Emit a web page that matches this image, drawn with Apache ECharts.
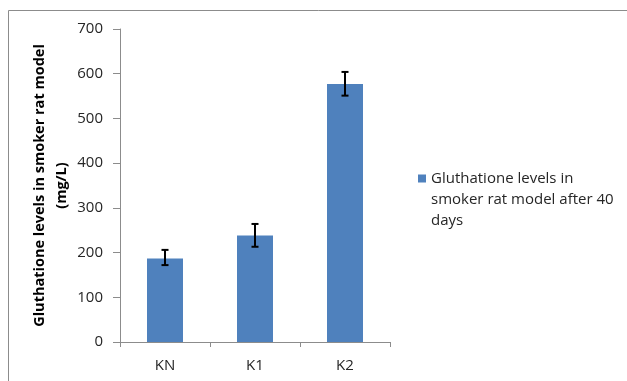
<!DOCTYPE html>
<html>
<head>
<meta charset="utf-8">
<script src="https://cdn.jsdelivr.net/npm/echarts@6/dist/echarts.min.js"></script>
<style>
html,body{margin:0;padding:0;background:#fff;}
#chart{width:627px;height:381px;}
</style>
</head>
<body>
<div id="chart"></div>
<script>
const categories = ['KN', 'K1', 'K2'];
const values = [187, 238, 577];
const errLow = [172, 213, 551];
const errHigh = [206, 264, 604];
const seriesName = 'Gluthatione levels in smoker rat model after 40 days';
const legendLines = ['Gluthatione levels in', 'smoker rat model after 40', 'days'];
const yAxisTitle = ['Gluthatione levels in smoker rat model', '(mg/L)'];

const chart = echarts.init(document.getElementById('chart'));
const font = 'Open Sans';
const errData = categories.map((c, i) => [i, errLow[i], errHigh[i]]);

chart.setOption({
  animation: false,
  backgroundColor: '#fff',
  graphic: [{
    type: 'rect',
    shape: { x: 8.5, y: 10.5, width: 700, height: 500 },
    style: { fill: 'none', stroke: '#8c8c8c', lineWidth: 1 },
    silent: true
  }],
  grid: { left: 120, right: 237, top: 29, bottom: 39, containLabel: false },
  legend: {
    data: [seriesName],
    left: 418,
    top: 126,
    orient: 'vertical',
    icon: 'rect',
    itemWidth: 8,
    itemHeight: 8,
    itemGap: 4,
    padding: 0,
    formatter: () => '\n\n' + legendLines.join('\n'),
    textStyle: {
      fontFamily: font, fontSize: 15, color: '#262626',
      lineHeight: 21
    }
  },
  xAxis: {
    type: 'category',
    data: categories,
    axisLine: { lineStyle: { color: '#8c8c8c', width: 1 } },
    axisTick: { show: true, alignWithLabel: false, length: 5, lineStyle: { color: '#8c8c8c' } },
    axisLabel: { fontFamily: font, fontSize: 15, color: '#262626', margin: 16 },
    splitLine: { show: false }
  },
  yAxis: {
    type: 'value',
    min: 0, max: 700, interval: 100,
    name: yAxisTitle.join('\n'),
    nameLocation: 'middle',
    nameRotate: 90,
    nameGap: 47,
    nameTextStyle: { fontFamily: font, fontSize: 14.5, fontWeight: 'bold', color: '#000', lineHeight: 22 },
    axisLine: { show: true, lineStyle: { color: '#8c8c8c', width: 1 } },
    axisTick: { show: true, length: 7, lineStyle: { color: '#8c8c8c' } },
    axisLabel: { fontFamily: font, fontSize: 15, color: '#262626', margin: 17 },
    splitLine: { show: false }
  },
  series: [{
    name: seriesName,
    type: 'bar',
    data: values,
    barWidth: '40%',
    itemStyle: { color: '#4f81bd' },
    z: 2
  }, {
    type: 'custom',
    name: 'err',
    data: errData,
    z: 5,
    renderItem: function (params, api) {
      const x = api.value(0);
      const lo = api.coord([x, api.value(1)]);
      const hi = api.coord([x, api.value(2)]);
      const hw = 3.5;
      const st = { stroke: '#000', lineWidth: 2 };
      return {
        type: 'group',
        children: [
          { type: 'line', shape: { x1: hi[0], y1: hi[1], x2: lo[0], y2: lo[1] }, style: st },
          { type: 'line', shape: { x1: hi[0] - hw, y1: hi[1], x2: hi[0] + hw, y2: hi[1] }, style: st },
          { type: 'line', shape: { x1: lo[0] - hw, y1: lo[1], x2: lo[0] + hw, y2: lo[1] }, style: st }
        ]
      };
    }
  }]
});
</script>
</body>
</html>
